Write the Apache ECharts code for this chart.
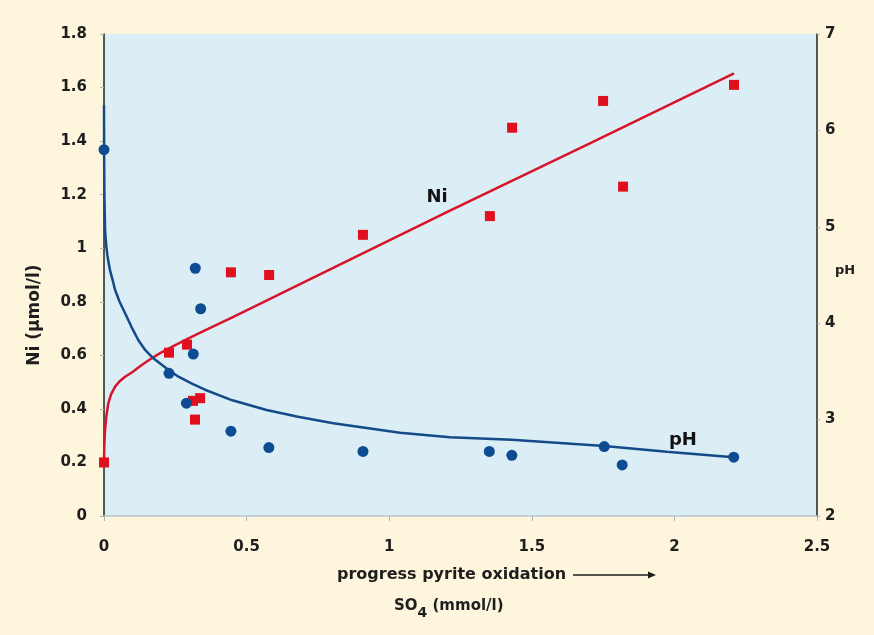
<!DOCTYPE html>
<html>
<head>
<meta charset="utf-8">
<script src="https://cdn.jsdelivr.net/npm/echarts@6/dist/echarts.min.js"></script>
<style>
  html, body { margin: 0; padding: 0; background: #fdf5dc; }
  #chart { width: 874px; height: 635px; }
</style>
</head>
<body>
<div id="chart"></div>
<script>
// SO4 concentration (mmol/l) of the sampled waters
const so4Ni = [0, 0.228, 0.291, 0.312, 0.319, 0.337, 0.445, 0.579, 0.908, 1.353, 1.431, 1.750, 1.820, 2.209];
const so4pH = [0, 0.228, 0.289, 0.313, 0.320, 0.339, 0.445, 0.578, 0.908, 1.351, 1.430, 1.754, 1.817, 2.208];
// measured Ni (µmol/l) and pH
const niValues = [0.20, 0.61, 0.64, 0.43, 0.36, 0.44, 0.91, 0.90, 1.05, 1.12, 1.45, 1.55, 1.23, 1.61];
const phValues = [5.80, 3.48, 3.17, 3.68, 4.57, 4.15, 2.88, 2.71, 2.67, 2.67, 2.63, 2.72, 2.53, 2.61];

// trend curves
const niTrendX = [0, 0.001, 0.0035, 0.008, 0.015, 0.025, 0.039, 0.055, 0.074, 0.1, 0.13, 0.167, 0.2, 0.25, 0.3, 0.354, 0.45, 0.6, 0.8, 1.213, 1.7, 2.209];
const niTrendY = [0.20, 0.26, 0.32, 0.37, 0.421, 0.455, 0.483, 0.503, 0.52, 0.538, 0.562, 0.589, 0.61, 0.638, 0.665, 0.693, 0.742, 0.82, 0.925, 1.14, 1.39, 1.653];
const phTrendX = [0, 0.0005, 0.0015, 0.004, 0.008, 0.012, 0.021, 0.03, 0.039, 0.055, 0.074, 0.095, 0.12, 0.145, 0.173, 0.215, 0.261, 0.31, 0.354, 0.45, 0.57, 0.68, 0.804, 1.038, 1.213, 1.43, 1.754, 1.973, 2.208];
const phTrendY = [6.26, 5.70, 5.30, 4.95, 4.80, 4.70, 4.55, 4.45, 4.344, 4.22, 4.103, 3.97, 3.826, 3.72, 3.636, 3.54, 3.445, 3.37, 3.31, 3.20, 3.10, 3.03, 2.962, 2.864, 2.816, 2.79, 2.726, 2.667, 2.609];

// axis ranges
const xTicks = { min: 0, max: 2.5, step: 0.5 };
const niTicks = { min: 0, max: 1.8, step: 0.2 };
const phTicks = { min: 2, max: 7, step: 1 };

const FONT = '"DejaVu Sans", sans-serif';
const INK = '#1e1e1e';
const RED = '#e0101e';
const BLUE = '#0d4c92';

const zip = (xs, ys) => xs.map((x, i) => [x, ys[i]]);

const tickLabel = { fontFamily: FONT, fontWeight: 'bold', fontSize: 15, color: INK };

const chart = echarts.init(document.getElementById('chart'));
chart.setOption({
  backgroundColor: '#fdf5dc',
  animation: false,
  grid: {
    left: 104, right: 57, top: 34, bottom: 119,
    show: true, backgroundColor: '#dbedf5', borderWidth: 0
  },
  xAxis: {
    type: 'value', min: xTicks.min, max: xTicks.max, interval: xTicks.step,
    axisLine: { show: true, lineStyle: { color: '#b9c6cc', width: 1.5 } },
    axisTick: { show: true, length: 5, lineStyle: { color: '#a9b3b6' } },
    axisLabel: Object.assign({ margin: 24 }, tickLabel),
    splitLine: { show: false }
  },
  yAxis: [
    {
      type: 'value', min: niTicks.min, max: niTicks.max, interval: niTicks.step,
      axisLine: { show: true, onZero: false, lineStyle: { color: '#222', width: 1.5 } },
      axisTick: { show: true, length: 4, lineStyle: { color: '#a9b3b6' } },
      axisLabel: Object.assign({ margin: 17 }, tickLabel),
      splitLine: { show: false }
    },
    {
      type: 'value', min: phTicks.min, max: phTicks.max, interval: phTicks.step,
      axisLine: { show: true, onZero: false, lineStyle: { color: '#222', width: 1.5 } },
      axisTick: { show: true, length: 3, lineStyle: { color: '#a9b3b6' } },
      axisLabel: Object.assign({ margin: 8 }, tickLabel),
      splitLine: { show: false }
    }
  ],
  series: [
    {
      name: 'Ni trend', type: 'line', yAxisIndex: 0,
      data: zip(niTrendX, niTrendY), smooth: false,
      showSymbol: false, lineStyle: { color: '#d8142a', width: 2.5 }, z: 2
    },
    {
      name: 'pH trend', type: 'line', yAxisIndex: 1,
      data: zip(phTrendX, phTrendY), smooth: false,
      showSymbol: false, lineStyle: { color: '#144a87', width: 2.5 }, z: 2
    },
    {
      name: 'Ni', type: 'scatter', yAxisIndex: 0,
      data: zip(so4Ni, niValues), symbol: 'rect', symbolSize: 10,
      itemStyle: { color: RED, opacity: 1 }, z: 3,
      markPoint: {
        symbol: 'circle', symbolSize: 0,
        data: [{ coord: [1.168, 1.19] }],
        label: { show: true, position: 'inside', formatter: 'Ni',
          fontFamily: FONT, fontWeight: 'bold', fontSize: 18, color: '#111' }
      }
    },
    {
      name: 'pH', type: 'scatter', yAxisIndex: 1,
      data: zip(so4pH, phValues), symbol: 'circle', symbolSize: 11,
      itemStyle: { color: BLUE, opacity: 1 }, z: 3,
      markPoint: {
        symbol: 'circle', symbolSize: 0,
        data: [{ coord: [2.03, 2.79] }],
        label: { show: true, position: 'inside', formatter: 'pH',
          fontFamily: FONT, fontWeight: 'bold', fontSize: 18, color: '#111' }
      }
    }
  ],
  graphic: [
    {
      type: 'text', x: 35, y: 315, rotation: Math.PI / 2,
      style: { text: 'Ni (µmol/l)', fontFamily: FONT, fontWeight: 'bold', fontSize: 17, fill: INK,
        align: 'center', verticalAlign: 'middle' }
    },
    {
      type: 'text', x: 845, y: 271,
      style: { text: 'pH', fontFamily: FONT, fontWeight: 'bold', fontSize: 13, fill: INK,
        align: 'center', verticalAlign: 'middle' }
    },
    {
      type: 'text', x: 337, y: 575,
      style: { text: 'progress pyrite oxidation', fontFamily: FONT, fontWeight: 'bold', fontSize: 16, fill: INK,
        align: 'left', verticalAlign: 'middle' }
    },
    {
      type: 'line', shape: { x1: 573, y1: 575, x2: 650, y2: 575 },
      style: { stroke: INK, lineWidth: 1.5 }
    },
    {
      type: 'polygon', shape: { points: [[656, 575], [648, 571.5], [648, 578.5]] },
      style: { fill: INK }
    },
    {
      type: 'text', x: 394, y: 592,
      style: {
        text: '{a|SO}{b|4}{a| (mmol/l)}',
        rich: {
          a: { fontFamily: FONT, fontWeight: 'bold', fontSize: 15, fill: INK, verticalAlign: 'bottom', lineHeight: 22 },
          b: { fontFamily: FONT, fontWeight: 'bold', fontSize: 14, fill: INK, verticalAlign: 'bottom', lineHeight: 22, padding: [0, 0, -6, 0] }
        }
      }
    }
  ]
});
</script>
</body>
</html>
